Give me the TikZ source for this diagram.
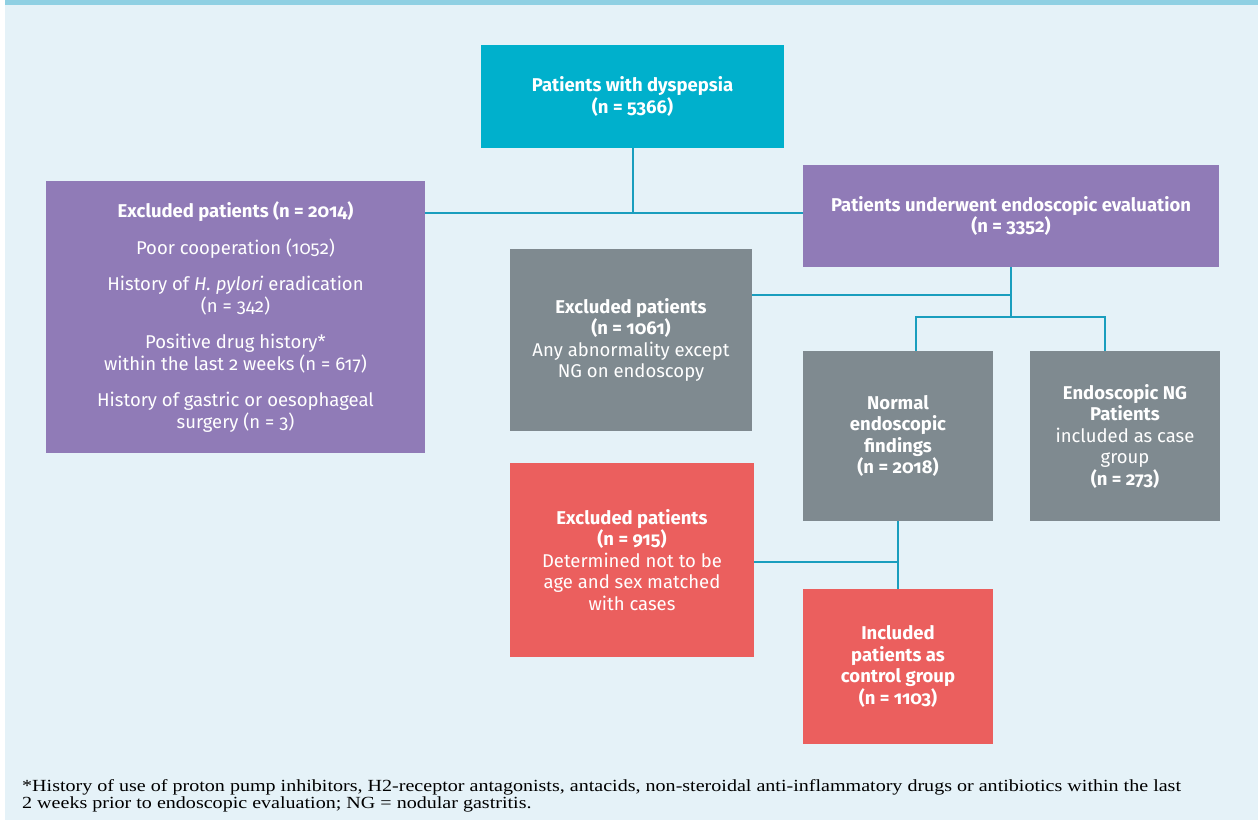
\documentclass[tikz,border=0pt]{standalone}
\usepackage{fontspec}
\setmainfont{Fira Sans}[Numbers=OldStyle]
\newfontfamily\fnfont{Liberation Serif}
\definecolor{bgc}{HTML}{E5F2F8}
\definecolor{topbar}{HTML}{8FD0E3}
\definecolor{tealc}{HTML}{00B0CC}
\definecolor{purp}{HTML}{907BB7}
\definecolor{grayc}{HTML}{7F8A90}
\definecolor{redc}{HTML}{EB5F5E}
\definecolor{linec}{HTML}{1A9EBE}
\begin{document}
\begin{tikzpicture}[x=1pt,y=-1pt,
  box/.style={rectangle, inner sep=0pt, text=white, align=center,
    font=\fontsize{18.5}{21.5}\selectfont},
  conn/.style={draw=linec, line width=2pt}]
\useasboundingbox (0,0) rectangle (1258,820);
\fill[white] (0,0) rectangle (1258,820);
\fill[bgc] (5,0) rectangle (1258,820);
\fill[topbar] (5,0) rectangle (1258,5);
% boxes
\node[box, fill=tealc, minimum width=303pt, minimum height=103pt] (top) at (632.5,96.5)
  {\textbf{Patients with dyspepsia}\\\textbf{(n = 5366)}};
\node[box, fill=purp, minimum width=379pt, minimum height=272pt] (exl) at (235.5,317)
  {\textbf{Excluded patients (n = 2014)}\\[15pt]
   Poor cooperation (1052)\\[15pt]
   History of \textit{H. pylori} eradication\\(n = 342)\\[15pt]
   Positive drug history*\\within the last 2 weeks (n = 617)\\[15pt]
   History of gastric or oesophageal\\surgery (n = 3)};
\node[box, fill=purp, minimum width=416pt, minimum height=102pt] (endo) at (1011,216)
  {\textbf{Patients underwent endoscopic evaluation}\\\textbf{(n = 3352)}};
\node[box, fill=grayc, minimum width=242pt, minimum height=182pt] (exg) at (631,340)
  {\textbf{Excluded patients}\\\textbf{(n = 1061)}\\Any abnormality except\\NG on endoscopy};
\node[box, fill=grayc, minimum width=190pt, minimum height=170pt] (norm) at (898,436)
  {\textbf{Normal}\\\textbf{endoscopic}\\\textbf{findings}\\\textbf{(n = 2018)}};
\node[box, fill=grayc, minimum width=190pt, minimum height=170pt] (ng) at (1125,436)
  {\textbf{Endoscopic NG}\\\textbf{Patients}\\included as case\\group\\\textbf{(n = 273)}};
\node[box, fill=redc, minimum width=244pt, minimum height=194pt] (exr) at (632,560)
  {\textbf{Excluded patients}\\\textbf{(n = 915)}\\Determined not to be\\age and sex matched\\with cases};
\node[box, fill=redc, minimum width=190pt, minimum height=155pt] (incl) at (898,666.5)
  {\textbf{Included}\\\textbf{patients as}\\\textbf{control group}\\\textbf{(n = 1103)}};
% connectors
\coordinate (j1) at (632.5,213);
\coordinate (j2) at (1011,295);
\coordinate (j3) at (1011,317);
\coordinate (j4) at (898,562);
\draw[conn] (top.south) -- (j1);
\draw[conn] (exl.east |- j1) -- (endo.west |- j1);
\draw[conn] (endo.south) -- (j3);
\draw[conn] (j2) -- (exg.east |- j2);
\draw[conn] ([xshift=18pt]norm.north) |- (j3) -| ([xshift=-20pt]ng.north);
\draw[conn] (norm.south) -- (incl.north);
\draw[conn] (exr.east |- j4) -- (j4);
% footnote
\node[anchor=north west, inner sep=0pt, text=black,
  font=\fnfont\fontsize{17}{18}\selectfont] (fn) at (22,779)
  {\scalebox{1.18}[1]{\begin{tabular}{@{}l@{}}*History of use of proton pump inhibitors, H2-receptor antagonists, antacids, non-steroidal anti-inflammatory drugs or antibiotics within the last\\[-1pt]
   2 weeks prior to endoscopic evaluation; NG = nodular gastritis.\end{tabular}}};
\end{tikzpicture}
\end{document}
